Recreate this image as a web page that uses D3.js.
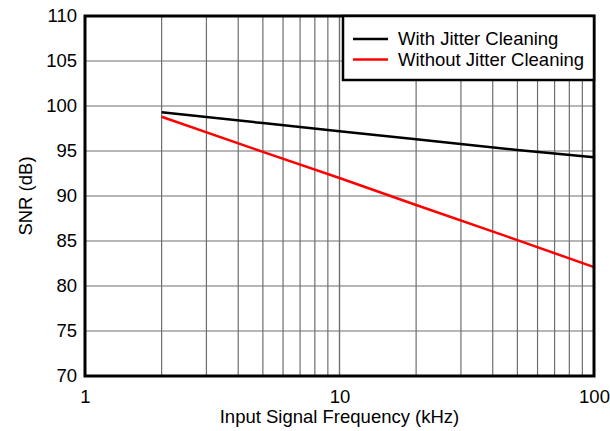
<!DOCTYPE html>
<html>
<head>
<meta charset="utf-8">
<script src="https://cdn.jsdelivr.net/npm/d3@7"></script>
<style>
  body { margin: 0; background: #fff; }
  text { font-family: "Liberation Sans", Arial, sans-serif; fill: #000; }
</style>
</head>
<body>
<div id="chart"></div>
<script>
const freqs = [2, 5, 10, 20, 50, 100];
const snrWith = [99.3, 98.1, 97.2, 96.3, 95.1, 94.3];
const snrWithout = [98.8, 94.9, 92.0, 89.0, 85.1, 82.1];
const yTicks = [70, 75, 80, 85, 90, 95, 100, 105, 110];
const xTicks = [1, 10, 100];
const seriesNames = ['With Jitter Cleaning', 'Without Jitter Cleaning'];
const seriesColors = ['#000000', '#ff0000'];

const W = 610, H = 431;
const margin = {left: 85, right: 16, top: 16, bottom: 55};
const w = W - margin.left - margin.right,
      h = H - margin.top - margin.bottom;
const fs = 18.5;

const svg = d3.select('#chart').append('svg')
  .attr('width', W).attr('height', H);

const x = d3.scaleLog().domain([1, 100]).range([0, w]);
const y = d3.scaleLinear().domain([70, 110]).range([h, 0]);

const g = svg.append('g').attr('transform', `translate(${margin.left},${margin.top})`);

// grid
const minorX = [];
[1, 10].forEach(d => { for (let k = 1; k <= 10; k++) minorX.push(d * k); });
g.selectAll('.vgrid').data(minorX.filter(v => v > 1 && v < 100)).join('line')
  .attr('x1', d => x(d)).attr('x2', d => x(d))
  .attr('y1', 0).attr('y2', h)
  .attr('stroke', '#6e6e6e').attr('stroke-width', 1.2);
g.selectAll('.hgrid').data(yTicks.filter(v => v > 70 && v < 110)).join('line')
  .attr('x1', 0).attr('x2', w)
  .attr('y1', d => y(d)).attr('y2', d => y(d))
  .attr('stroke', '#6e6e6e').attr('stroke-width', 1.2);

// lines
const line = d3.line().x((d, i) => x(freqs[i])).y(d => y(d));
[snrWith, snrWithout].forEach((s, i) => {
  g.append('path').datum(s)
    .attr('d', line)
    .attr('fill', 'none')
    .attr('stroke', seriesColors[i])
    .attr('stroke-width', 2.5);
});

// frame
g.append('rect').attr('width', w).attr('height', h)
  .attr('fill', 'none').attr('stroke', '#000').attr('stroke-width', 3);

// axes
const yAxis = g.append('g').call(d3.axisLeft(y).tickValues(yTicks).tickSize(0).tickPadding(8));
const xAxis = g.append('g').attr('transform', `translate(0,${h})`)
  .call(d3.axisBottom(x).tickValues(xTicks).tickFormat(d3.format('d')).tickSize(0).tickPadding(14));
[yAxis, xAxis].forEach(a => {
  a.select('.domain').remove();
  a.selectAll('text').attr('font-size', fs).attr('font-family', '"Liberation Sans", Arial, sans-serif');
});

// axis titles
svg.append('text')
  .attr('x', margin.left + w / 2).attr('y', 423)
  .attr('text-anchor', 'middle').attr('font-size', fs)
  .text('Input Signal Frequency (kHz)');
svg.append('text')
  .attr('transform', `translate(32,${margin.top + h / 2}) rotate(-90)`)
  .attr('text-anchor', 'middle').attr('font-size', fs)
  .text('SNR (dB)');

// legend
const lg = g.append('g').attr('transform', `translate(${w - 251},0)`);
lg.append('rect').attr('width', 251).attr('height', 64)
  .attr('fill', '#fff').attr('stroke', '#000').attr('stroke-width', 2.5);
seriesNames.forEach((name, i) => {
  const row = lg.append('g').attr('transform', `translate(0,${23 + i * 20.5})`);
  row.append('line').attr('x1', 10).attr('x2', 45)
    .attr('stroke', seriesColors[i]).attr('stroke-width', 2.5);
  row.append('text').attr('x', 55).attr('dy', '0.35em')
    .attr('font-size', fs).text(name);
});
</script>
</body>
</html>
